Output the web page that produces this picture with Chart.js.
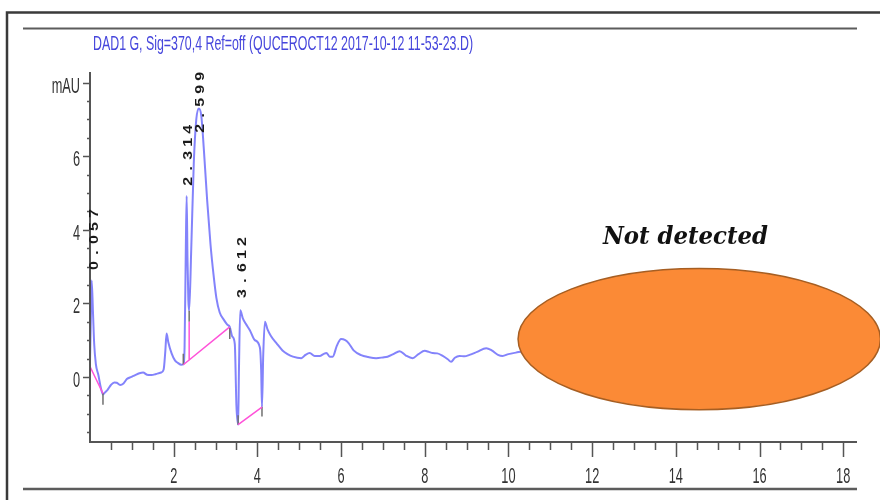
<!DOCTYPE html>
<html>
<head>
<meta charset="utf-8">
<script src="https://cdn.jsdelivr.net/npm/chart.js@4.4.1/dist/chart.umd.min.js"></script>
<style>
  html, body { margin: 0; padding: 0; background: #fff; }
</style>
</head>
<body>
<canvas id="chromChart" width="880" height="500"></canvas>
<script>
const titleText = 'DAD1 G, Sig=370,4 Ref=off (QUCEROCT12 2017-10-12 11-53-23.D)';
const noteText = 'Not detected';

// retention time (min) / signal (mAU)
const traceTime = [0.00, 0.02, 0.04, 0.07, 0.10, 0.14, 0.20, 0.26, 0.31, 0.36, 0.42, 0.50, 0.58, 0.64, 0.72, 0.80, 0.88, 0.99,
  1.08, 1.18, 1.27, 1.36, 1.47, 1.58, 1.70, 1.76, 1.80, 1.83, 1.87, 1.95, 2.03, 2.10, 2.18, 2.23, 2.26, 2.29, 2.31, 2.33, 2.35, 2.37,
  2.42, 2.48, 2.54, 2.60, 2.66, 2.72, 2.80, 2.88, 2.95, 3.02, 3.10, 3.20, 3.28, 3.34, 3.40, 3.46, 3.50, 3.54, 3.56, 3.59, 3.65, 3.72,
  3.82, 3.94, 4.06, 4.09, 4.11, 4.14, 4.18, 4.24, 4.32, 4.46, 4.60, 4.72, 4.85, 5.05, 5.15, 5.25, 5.37, 5.49, 5.58, 5.65, 5.73, 5.80,
  5.90, 6.00, 6.10, 6.18, 6.30, 6.48, 6.65, 6.84, 7.00, 7.11, 7.25, 7.40, 7.55, 7.71, 7.85, 8.00, 8.10, 8.19, 8.30, 8.43, 8.55, 8.63,
  8.72, 8.83, 8.95, 9.07, 9.25, 9.47, 9.60, 9.75, 9.86, 10.00, 10.18, 10.40, 10.80];
const traceSignal = [0.40, 1.60, 2.62, 1.80, 0.90, 0.35, 0.05, -0.30, -0.48, -0.42, -0.35, -0.22, -0.15, -0.16, -0.22, -0.18, -0.06, 0.00,
  0.05, 0.10, 0.12, 0.06, 0.05, 0.08, 0.12, 0.20, 0.70, 1.18, 0.95, 0.64, 0.45, 0.38, 0.33, 0.34, 0.80, 3.50, 4.92, 3.20, 2.10, 1.80,
  3.50, 5.80, 7.00, 7.30, 7.10, 6.20, 4.80, 3.60, 2.80, 2.15, 1.75, 1.55, 1.42, 1.36, 1.10, 0.90, -0.80, -1.30, 0.20, 1.81, 1.60, 1.45,
  1.27, 1.00, 0.80, 0.20, -0.82, 0.60, 1.50, 1.30, 1.12, 0.91, 0.72, 0.62, 0.55, 0.51, 0.60, 0.65, 0.57, 0.57, 0.62, 0.65, 0.55, 0.55,
  0.85, 1.03, 1.00, 0.92, 0.72, 0.59, 0.54, 0.51, 0.53, 0.55, 0.62, 0.70, 0.58, 0.51, 0.62, 0.71, 0.68, 0.65, 0.64, 0.57, 0.48, 0.41,
  0.52, 0.57, 0.56, 0.60, 0.68, 0.78, 0.72, 0.60, 0.57, 0.62, 0.66, 0.70, 0.68];

// integration baselines (pink)
const baseX1 = [0.00, 2.23, 3.54, 2.37];
const baseY1 = [0.28, 0.33, -1.30, 0.47];
const baseX2 = [0.31, 3.34, 4.11, 2.37];
const baseY2 = [-0.45, 1.36, -0.82, 1.50];

// small grey peak start/stop marks
const markX = [0.31, 2.23, 2.37, 3.34, 3.54, 4.11];
const markY1 = [-0.43, 0.33, 1.50, 1.33, -1.30, -0.81];
const markY2 = [-0.76, 0.63, 1.80, 1.03, -1.04, -1.08];

const peakTimes = [0.057, 2.314, 2.599, 3.612];
const peakLabels = ['0.057', '2.314', '2.599', '3.612'];
const peakLabelBase = [2.85, 5.14, 6.58, 2.09];

const xTickValues = [2, 4, 6, 8, 10, 12, 14, 16, 18];
const xTickLabels = ['2', '4', '6', '8', '10', '12', '14', '16', '18'];
const yTickValues = [0, 2, 4, 6, 8];
const yTickLabels = ['0', '2', '4', '6', 'mAU'];

// orange "not detected" region, in data units
const blobCenter = [14.56, 1.03];
const blobRadius = [4.33, 1.92];
const notePos = [14.23, 3.62];

function segments(x1, y1, x2, y2) {
  const pts = [];
  x1.forEach((x, i) => {
    pts.push({x: x, y: y1[i]}, {x: x2[i], y: y2[i]}, {x: x2[i], y: null});
  });
  return pts;
}

function squished(ctx, text, x, y, align, sx) {
  ctx.save();
  ctx.translate(x, y);
  ctx.scale(sx, 1);
  ctx.textAlign = align;
  ctx.fillText(text, 0, 0);
  ctx.restore();
}

const decorations = {
  id: 'decorations',
  beforeDraw(chart) {
    const ctx = chart.ctx;
    ctx.save();
    ctx.fillStyle = '#fff';
    ctx.fillRect(0, 0, chart.width, chart.height);
    ctx.restore();
  },
  afterDraw(chart) {
    const ctx = chart.ctx;
    const xs = chart.scales.x, ys = chart.scales.y, area = chart.chartArea;
    ctx.save();

    // frame lines
    ctx.strokeStyle = '#3a3a3a';
    ctx.lineWidth = 2.5;
    ctx.beginPath();
    ctx.moveTo(7, 500); ctx.lineTo(7, 12.5); ctx.lineTo(880, 12.5);
    ctx.stroke();
    ctx.strokeStyle = '#5c5c5c';
    ctx.lineWidth = 2;
    ctx.beginPath(); ctx.moveTo(23, 28.5); ctx.lineTo(857, 28.5); ctx.stroke();
    ctx.lineWidth = 2.5;
    ctx.beginPath(); ctx.moveTo(23, 489); ctx.lineTo(857, 489); ctx.stroke();

    // axes
    ctx.strokeStyle = '#555';
    ctx.lineWidth = 2;
    ctx.beginPath();
    ctx.moveTo(area.left, area.top); ctx.lineTo(area.left, area.bottom); ctx.lineTo(area.right, area.bottom);
    ctx.stroke();

    ctx.lineWidth = 1.5;
    ctx.beginPath();
    for (let v = 0.5; v <= xs.max; v += 0.5) {
      const px = Math.round(xs.getPixelForValue(v)) + 0.5;
      const len = xTickValues.includes(v) ? 15 : 8;
      ctx.moveTo(px, area.bottom); ctx.lineTo(px, area.bottom + len);
    }
    for (let v = Math.ceil(ys.min * 2) / 2; v <= ys.max; v += 0.5) {
      const py = Math.round(ys.getPixelForValue(v)) + 0.5;
      const len = yTickValues.includes(v) ? 7 : 3;
      ctx.moveTo(area.left, py); ctx.lineTo(area.left - len, py);
    }
    ctx.stroke();

    ctx.fillStyle = '#333';
    ctx.font = '22px "Liberation Sans", Arial, sans-serif';
    ctx.textBaseline = 'alphabetic';
    xTickValues.forEach((v, i) => {
      squished(ctx, xTickLabels[i], xs.getPixelForValue(v), area.bottom + 41, 'center', 0.58);
    });
    yTickValues.forEach((v, i) => {
      squished(ctx, yTickLabels[i], area.left - 10, ys.getPixelForValue(v) + 10, 'right', 0.58);
    });

    // title
    ctx.fillStyle = '#4646dc';
    ctx.font = '21px "Liberation Sans", Arial, sans-serif';
    const tw = ctx.measureText(titleText).width;
    squished(ctx, titleText, area.left + 3, 50, 'left', 380 / tw);

    // peak retention time labels
    ctx.fillStyle = '#1a1a1a';
    ctx.font = 'bold 16px "Liberation Sans", Arial, sans-serif';
    peakLabels.forEach((lab, i) => {
      const px = xs.getPixelForValue(peakTimes[i]) + 1.5;
      const py = ys.getPixelForValue(peakLabelBase[i]);
      ctx.save();
      ctx.translate(px, py);
      ctx.rotate(-Math.PI / 2);
      ctx.scale(1, 0.85);
      ctx.textAlign = 'center';
      ctx.textBaseline = 'middle';
      for (let k = 0; k < lab.length; k++) ctx.fillText(lab[k], 6.5 + k * 13, 0);
      ctx.restore();
    });

    // orange region
    const cx = xs.getPixelForValue(blobCenter[0]);
    const cy = ys.getPixelForValue(blobCenter[1]);
    const rx = xs.getPixelForValue(blobCenter[0] + blobRadius[0]) - cx;
    const ry = cy - ys.getPixelForValue(blobCenter[1] + blobRadius[1]);
    ctx.beginPath();
    ctx.ellipse(cx, cy, rx, ry, 0, 0, Math.PI * 2);
    ctx.fillStyle = '#fb8a36';
    ctx.fill();
    ctx.strokeStyle = '#a65e22';
    ctx.lineWidth = 1.5;
    ctx.stroke();

    ctx.fillStyle = '#111';
    ctx.font = 'italic bold 24px "DejaVu Serif", "Liberation Serif", serif';
    ctx.textBaseline = 'alphabetic';
    const nw = ctx.measureText(noteText).width;
    squished(ctx, noteText, xs.getPixelForValue(notePos[0]), ys.getPixelForValue(notePos[1]), 'center', 165 / nw);

    ctx.restore();
  }
};

const ctx = document.getElementById('chromChart');

new Chart(ctx, {
  type: 'line',
  data: {
    datasets: [{
      label: 'baseline',
      data: segments(baseX1, baseY1, baseX2, baseY2),
      borderColor: '#ff52d9',
      borderWidth: 1.5,
      pointRadius: 0,
      order: 0
    }, {
      label: 'marks',
      data: segments(markX, markY1, markX, markY2),
      borderColor: '#707070',
      borderWidth: 1.5,
      pointRadius: 0,
      order: 1
    }, {
      label: 'DAD1 G',
      data: traceTime.map((t, i) => ({x: t, y: traceSignal[i]})),
      borderColor: 'rgba(100, 100, 250, 0.8)',
      borderWidth: 2,
      pointRadius: 0,
      cubicInterpolationMode: 'monotone',
      order: 2
    }]
  },
  options: {
    responsive: false,
    animation: false,
    layout: { padding: { top: 72, right: 23, left: 0, bottom: 0 } },
    plugins: {
      legend: { display: false },
      tooltip: { enabled: false },
      title: { display: false }
    },
    scales: {
      x: {
        type: 'linear',
        min: 0,
        max: 18.33,
        grid: { display: false },
        border: { display: false },
        ticks: { display: false },
        afterFit(scale) { scale.height = 58; }
      },
      y: {
        min: -1.77,
        max: 8.29,
        grid: { display: false },
        border: { display: false },
        ticks: { display: false },
        afterFit(scale) { scale.width = 90; }
      }
    }
  },
  plugins: [decorations]
});
</script>
</body>
</html>
